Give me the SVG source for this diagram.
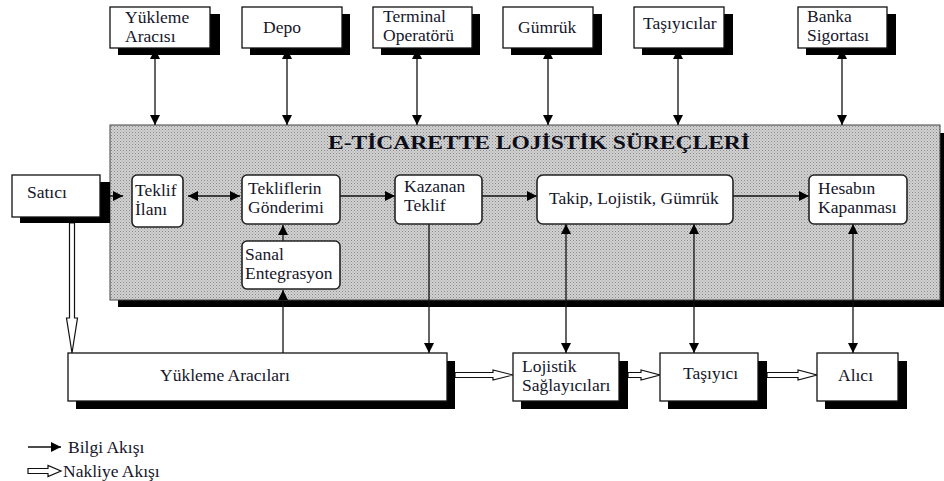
<svg xmlns="http://www.w3.org/2000/svg" width="944" height="481" viewBox="0 0 944 481">
  <defs>
    <pattern id="halftone" width="3" height="3" patternUnits="userSpaceOnUse">
      <rect width="3" height="3" fill="#d2d2d2"/>
      <rect x="0" y="0" width="1" height="1" fill="#888"/>
      <rect x="1.5" y="1.5" width="1" height="1" fill="#a0a0a0"/>
    </pattern>
    <marker id="head" viewBox="0 0 10 10" refX="10" refY="5" markerWidth="10" markerHeight="10" markerUnits="userSpaceOnUse" orient="auto-start-reverse">
      <path d="M0,0 L10,5 L0,10 Z" fill="#000"/>
    </marker>
  </defs>
  <style>
    text { font-family: "Liberation Serif", "Times New Roman", serif; font-size: 17.5px; fill: #15152a; }
    .title { font-weight: bold; font-size: 18px; fill: #0d0d1a; }
    .box { fill: #fff; stroke: #111; stroke-width: 1.3; }
    .proc { fill: #fff; stroke: #222; stroke-width: 1.6; }
    .shadow { fill: #000; }
    .info2 { stroke: #111; stroke-width: 1.3; fill: none; marker-end: url(#head); }
    .both { stroke: #111; stroke-width: 1.3; fill: none; marker-start: url(#head); marker-end: url(#head); }
    .haul { fill: #fff; stroke: #111; stroke-width: 1.2; stroke-linejoin: miter; }
  </style>

  <rect width="944" height="481" fill="#fff"/>

  <!-- container: e-commerce logistics processes -->
  <g id="processes">
    <rect class="shadow" x="118" y="133" width="830" height="174"/>
    <rect x="110" y="125" width="830" height="175" fill="url(#halftone)" stroke="#444" stroke-width="1"/>
    <text class="title" x="328" y="149" textLength="422" lengthAdjust="spacingAndGlyphs">E-TİCARETTE LOJİSTİK SÜREÇLERİ</text>
  </g>

  <!-- connectors -->
  <g id="connectors">
    <!-- actors above the process area -->
    <line class="both" x1="155" y1="49" x2="155" y2="125"/>
    <line class="both" x1="287" y1="49" x2="287" y2="125"/>
    <line class="both" x1="417" y1="49" x2="417" y2="125"/>
    <line class="both" x1="548" y1="49" x2="548" y2="125"/>
    <line class="both" x1="678" y1="49" x2="678" y2="125"/>
    <line class="both" x1="842" y1="49" x2="842" y2="125"/>

    <!-- process chain -->
    <line class="both" x1="85" y1="196" x2="123" y2="196"/>
    <line class="both" x1="188" y1="196" x2="240" y2="196"/>
    <line class="info2" x1="340" y1="196" x2="395" y2="196"/>
    <line class="info2" x1="482" y1="196" x2="537" y2="196"/>
    <line class="info2" x1="733" y1="196" x2="809" y2="196"/>

    <!-- virtual integration -->
    <line class="info2" x1="283" y1="241" x2="283" y2="225"/>
    <line class="info2" x1="283" y1="353" x2="283" y2="290"/>

    <!-- links down to the physical chain -->
    <line class="info2" x1="429" y1="224" x2="429" y2="353"/>
    <line class="both" x1="566" y1="224" x2="566" y2="353"/>
    <line class="both" x1="694" y1="224" x2="694" y2="353"/>
    <line class="both" x1="853" y1="224" x2="853" y2="353"/>

    <!-- transport flow -->
    <polygon class="haul" points="69.5,223 74.5,223 74.5,318 77.5,318 72,353 66.5,318 69.5,318"/>
    <polygon class="haul" points="455,372.5 493,372.5 493,370 513,375 493,380 493,377.5 455,377.5"/>
    <polygon class="haul" points="628,372.5 641,372.5 641,370 660,375 641,380 641,377.5 628,377.5"/>
    <polygon class="haul" points="767,372.5 798,372.5 798,370 817,375 798,380 798,377.5 767,377.5"/>
  </g>

  <!-- top actors -->
  <g id="yukleme-aracisi">
    <rect class="shadow" x="118" y="14" width="102" height="41"/>
    <rect class="box" x="110" y="7" width="100" height="41"/>
    <text x="125" y="23">Yükleme</text>
    <text x="125" y="42">Aracısı</text>
  </g>
  <g id="depo">
    <rect class="shadow" x="250" y="14" width="100" height="41"/>
    <rect class="box" x="242" y="7" width="100" height="41"/>
    <text x="263" y="33">Depo</text>
  </g>
  <g id="terminal-operatoru">
    <rect class="shadow" x="381" y="14" width="99" height="41"/>
    <rect class="box" x="373" y="7" width="99" height="41"/>
    <text x="383" y="22">Terminal</text>
    <text x="383" y="41">Operatörü</text>
  </g>
  <g id="gumruk">
    <rect class="shadow" x="511" y="14" width="91" height="41"/>
    <rect class="box" x="503" y="7" width="90" height="41"/>
    <text x="518" y="33">Gümrük</text>
  </g>
  <g id="tasiyicilar">
    <rect class="shadow" x="642" y="14" width="91" height="41"/>
    <rect class="box" x="634" y="7" width="90" height="41"/>
    <text x="643" y="29">Taşıyıcılar</text>
  </g>
  <g id="banka-sigortasi">
    <rect class="shadow" x="806" y="14" width="90" height="41"/>
    <rect class="box" x="798" y="7" width="89" height="41"/>
    <text x="807" y="22">Banka</text>
    <text x="807" y="41">Sigortası</text>
  </g>

  <!-- seller -->
  <g id="satici">
    <rect class="shadow" x="20" y="182" width="90" height="41"/>
    <rect class="box" x="12" y="175" width="88" height="42"/>
    <text x="27" y="198">Satıcı</text>
  </g>

  <!-- process steps -->
  <g id="teklif-ilani">
    <rect class="proc" x="132" y="175" width="51" height="52" rx="5"/>
    <text x="135" y="196">Teklif</text>
    <text x="135" y="215">İlanı</text>
  </g>
  <g id="tekliflerin-gonderimi">
    <rect class="proc" x="242" y="175" width="98" height="49" rx="5"/>
    <text x="248" y="194">Tekliflerin</text>
    <text x="248" y="213">Gönderimi</text>
  </g>
  <g id="sanal-entegrasyon">
    <rect class="proc" x="242" y="241" width="98" height="48" rx="5"/>
    <text x="245" y="260">Sanal</text>
    <text x="245" y="279">Entegrasyon</text>
  </g>
  <g id="kazanan-teklif">
    <rect class="proc" x="395" y="175" width="87" height="49" rx="5"/>
    <text x="404" y="192">Kazanan</text>
    <text x="404" y="211">Teklif</text>
  </g>
  <g id="takip">
    <rect class="proc" x="537" y="175" width="196" height="49" rx="6"/>
    <text x="549" y="204">Takip, Lojistik, Gümrük</text>
  </g>
  <g id="hesabin-kapanmasi">
    <rect class="proc" x="809" y="175" width="98" height="49" rx="5"/>
    <text x="818" y="194">Hesabın</text>
    <text x="818" y="213">Kapanması</text>
  </g>

  <!-- physical chain -->
  <g id="yukleme-aracilari">
    <rect class="shadow" x="76" y="361" width="379" height="48"/>
    <rect class="box" x="68" y="353" width="379" height="48"/>
    <text x="160" y="381">Yükleme Aracıları</text>
  </g>
  <g id="lojistik-saglayicilari">
    <rect class="shadow" x="521" y="361" width="107" height="48"/>
    <rect class="box" x="513" y="353" width="106" height="48"/>
    <text x="522" y="372">Lojistik</text>
    <text x="522" y="391">Sağlayıcıları</text>
  </g>
  <g id="tasiyici">
    <rect class="shadow" x="668" y="361" width="99" height="48"/>
    <rect class="box" x="660" y="353" width="98" height="48"/>
    <text x="683" y="379">Taşıyıcı</text>
  </g>
  <g id="alici">
    <rect class="shadow" x="825" y="361" width="82" height="48"/>
    <rect class="box" x="817" y="353" width="81" height="48"/>
    <text x="838" y="381">Alıcı</text>
  </g>

  <!-- legend -->
  <g id="legend">
    <line class="info2" x1="28" y1="447" x2="61" y2="447"/>
    <text x="68" y="453">Bilgi Akışı</text>
    <polygon class="haul" points="28,468.5 48,468.5 48,465.5 61,471 48,476.5 48,473.5 28,473.5"/>
    <text x="63" y="477">Nakliye Akışı</text>
  </g>
</svg>
